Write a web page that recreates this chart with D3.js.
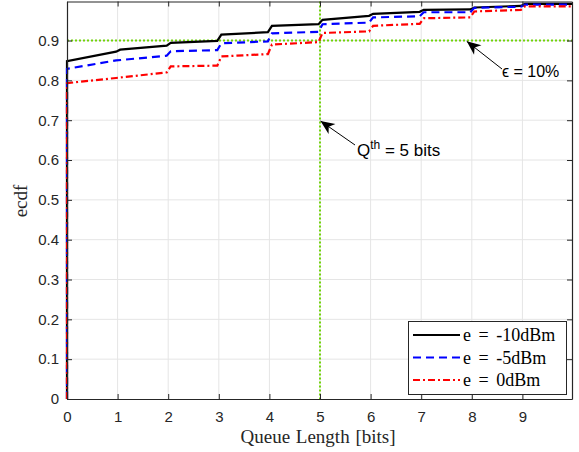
<!DOCTYPE html>
<html><head><meta charset="utf-8">
<script src="https://cdn.jsdelivr.net/npm/d3@7"></script>
<style>html,body{margin:0;padding:0;background:#fff;}svg{display:block;}</style>
</head><body><svg id="c" width="579" height="452"></svg>
<script>
// ---- data ----
const xTicks = [0,1,2,3,4,5,6,7,8,9];
const yTicks = [0,0.1,0.2,0.3,0.4,0.5,0.6,0.7,0.8,0.9];
const seriesNames = ["e = -10dBm","e = -5dBm","e = 0dBm"];
const blackPts = [[0,0],[0,0.848],[0.97,0.872],[1.05,0.877],[1.97,0.887],[2.05,0.894],[2.97,0.899],[3.05,0.915],[3.97,0.921],[4.05,0.937],[4.97,0.941],[5.05,0.952],[5.97,0.962],[6.05,0.967],[6.97,0.972],[7.05,0.977],[7.97,0.978],[8.05,0.983],[8.97,0.987],[9.05,0.992],[9.98,0.992]];
const bluePts = [[0,0],[0,0.829],[0.97,0.85],[1.97,0.862],[2.05,0.873],[2.97,0.876],[3.05,0.893],[3.97,0.898],[4.05,0.918],[4.97,0.922],[5.05,0.941],[5.97,0.945],[6.05,0.958],[6.97,0.961],[7.05,0.971],[7.97,0.971],[8.05,0.982],[8.97,0.985],[9.05,0.99],[9.98,0.99]];
const redPts = [[0,0],[0,0.793],[0.97,0.806],[1.97,0.82],[2.05,0.835],[2.97,0.837],[3.05,0.86],[3.97,0.866],[4.05,0.89],[4.97,0.896],[5.05,0.919],[5.97,0.923],[6.05,0.937],[6.97,0.942],[7.05,0.956],[7.97,0.958],[8.05,0.973],[8.97,0.977],[9.05,0.986],[9.98,0.986]];
const qThreshold = 5;
const epsLevel = 0.9;
const xDomain = [0, 9.98];
const yDomain = [0, 0.998];
// annotation anchor points (data coords)
const epsArrowTip = [7.9, 0.898];
const qArrowTip = [5.01, 0.698];

// ---- layout ----
const L = 67, R = 572, T = 1.5, B = 399;
const svg = d3.select("#c");
const x = d3.scaleLinear().domain(xDomain).range([L, R]);
const y = d3.scaleLinear().domain(yDomain).range([B, T]);
const axisCol = "#262626";
const sans = "'Liberation Sans', Arial, Helvetica, sans-serif";
const serif = "'Liberation Serif', 'Times New Roman', serif";

// grid
const g = svg.append("g");
g.selectAll(".gx").data(xTicks.filter(d=>d>0)).enter().append("line")
 .attr("x1", d=>x(d)).attr("x2", d=>x(d)).attr("y1", T).attr("y2", B)
 .attr("stroke", "#e5e5e5").attr("stroke-width", 1);
g.selectAll(".gy").data(yTicks.filter(d=>d>0)).enter().append("line")
 .attr("y1", d=>y(d)).attr("y2", d=>y(d)).attr("x1", L).attr("x2", R)
 .attr("stroke", "#e5e5e5").attr("stroke-width", 1);

// reference lines
const green = "#72d40a";
svg.append("line").attr("x1", L).attr("x2", R).attr("y1", y(epsLevel)).attr("y2", y(epsLevel))
 .attr("stroke", green).attr("stroke-width", 2).attr("stroke-dasharray", "2,2");
svg.append("line").attr("x1", x(qThreshold)).attr("x2", x(qThreshold)).attr("y1", T).attr("y2", B)
 .attr("stroke", green).attr("stroke-width", 2).attr("stroke-dasharray", "2,2");

// series
const line = d3.line().x(d=>x(d[0])).y(d=>y(d[1]));
const styles = [
  {data: blackPts, color: "#000000", dash: null},
  {data: bluePts, color: "#0000ff", dash: "8,5"},
  {data: redPts, color: "#ff0000", dash: "7,3,2,3"}
];
styles.forEach(s => {
  svg.append("path").attr("d", line(s.data)).attr("fill", "none")
   .attr("stroke", s.color).attr("stroke-width", 2.2)
   .attr("stroke-dasharray", s.dash);
});

// axes (box with inward ticks)
const xa = d3.axisBottom(x).tickValues(xTicks).tickSizeInner(-5).tickSizeOuter(0).tickPadding(12).tickFormat(d3.format("d"));
const ya = d3.axisLeft(y).tickValues(yTicks).tickSizeInner(-5).tickSizeOuter(0).tickPadding(8).tickFormat(d=> d===0?"0":d3.format(".1f")(d));
const gxA = svg.append("g").attr("transform", `translate(0,${B})`).call(xa);
const gyA = svg.append("g").attr("transform", `translate(${L},0)`).call(ya);
const gxT = svg.append("g").attr("transform", `translate(0,${T})`).call(d3.axisTop(x).tickValues(xTicks).tickSizeInner(-5).tickSizeOuter(0).tickFormat(""));
const gyR = svg.append("g").attr("transform", `translate(${R},0)`).call(d3.axisRight(y).tickValues(yTicks).tickSizeInner(-5).tickSizeOuter(0).tickFormat(""));
[gxA, gyA, gxT, gyR].forEach(a => {
  a.select(".domain").attr("stroke", axisCol).attr("stroke-width", 1.2);
  a.selectAll(".tick line").attr("stroke", axisCol).attr("stroke-width", 1);
  a.selectAll("text").attr("fill", axisCol).style("font-family", sans).style("font-size", "15px");
});

// axis labels
svg.append("text").attr("x", 318).attr("y", 443).attr("text-anchor", "middle")
 .style("font-family", serif).style("font-size", "19px").style("word-spacing", "1px").attr("fill", axisCol).text("Queue Length [bits]");
svg.append("text").attr("transform", "translate(27,201) rotate(-90)").attr("text-anchor", "middle")
 .style("font-family", serif).style("font-size", "19px").attr("fill", axisCol).text("ecdf");

// annotations with arrows
function arrow(x1, y1, x2, y2) {
  svg.append("line").attr("x1", x1).attr("y1", y1).attr("x2", x2).attr("y2", y2)
   .attr("stroke", "#000").attr("stroke-width", 1);
  const ang = Math.atan2(y2 - y1, x2 - x1);
  const len = 14, w = 6, back = 10;
  const p = (a, r) => [x2 - r*Math.cos(ang) + a*Math.cos(ang+Math.PI/2), y2 - r*Math.sin(ang) + a*Math.sin(ang+Math.PI/2)];
  const pts = [[x2, y2], p(w, len), p(0, back), p(-w, len)];
  svg.append("path").attr("d", "M" + pts.map(q=>q.join(",")).join("L") + "Z").attr("fill", "#000");
}
arrow(502, 69, x(epsArrowTip[0]), y(epsArrowTip[1]));
svg.append("text").attr("x", 502).attr("y", 77).style("font-family", sans).style("font-size", "16px").attr("fill", "#000")
 .text("ϵ = 10%");
arrow(355, 145, x(qArrowTip[0]), y(qArrowTip[1]));
const qt = svg.append("text").attr("x", 357).attr("y", 156).style("font-family", sans).style("font-size", "17px").attr("fill", "#000");
qt.append("tspan").text("Q");
qt.append("tspan").attr("dy", -7).style("font-size", "12px").text("th");
qt.append("tspan").attr("dy", 7).text(" = 5 bits");

// legend
const lg = svg.append("g");
lg.append("rect").attr("x", 408.5).attr("y", 321.5).attr("width", 158).attr("height", 73)
 .attr("fill", "#fff").attr("stroke", axisCol).attr("stroke-width", 1);
const rows = [335, 357.5, 380];
styles.forEach((s, i) => {
  lg.append("line").attr("x1", 413).attr("x2", 460).attr("y1", rows[i]).attr("y2", rows[i])
   .attr("stroke", s.color).attr("stroke-width", 2.2).attr("stroke-dasharray", s.dash);
  lg.append("text").attr("x", 463).attr("y", rows[i] + 6).style("font-family", serif).style("font-size", "18px")
   .style("word-spacing", "3px").attr("fill", "#000").text(seriesNames[i]);
});
</script></body></html>
